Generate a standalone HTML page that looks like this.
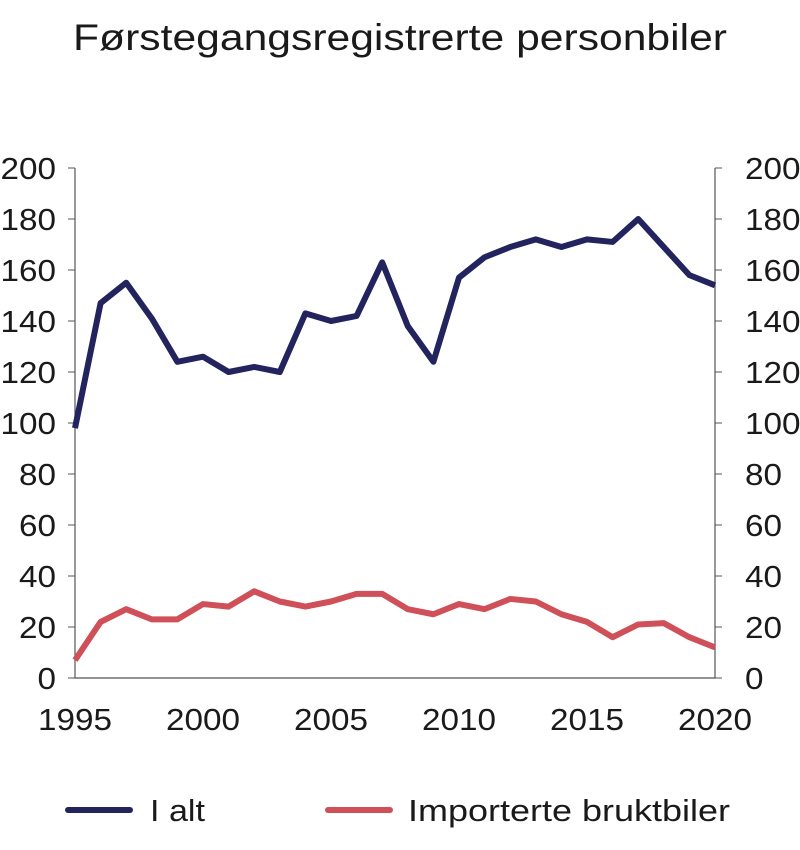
<!DOCTYPE html>
<html><head><meta charset="utf-8"><style>
body{margin:0;background:#fff;font-family:"Liberation Sans",sans-serif;}
svg text{font-family:"Liberation Sans",sans-serif;fill:#1a1a1a;}
</style></head><body>
<svg width="800" height="845">
<text x="73" y="50" font-size="37" textLength="654" lengthAdjust="spacingAndGlyphs">Førstegangsregistrerte personbiler</text>
<g id="axes"></g><g id="lines"></g>
<g>
<line x1="68" y1="810" x2="130" y2="810" stroke="#23235e" stroke-width="6" stroke-linecap="round"/>
<text x="150" y="821" font-size="31" textLength="55" lengthAdjust="spacingAndGlyphs">I alt</text>
<line x1="328" y1="810" x2="390" y2="810" stroke="#d0505a" stroke-width="6" stroke-linecap="round"/>
<text x="408" y="821" font-size="31" textLength="322" lengthAdjust="spacingAndGlyphs">Importerte bruktbiler</text>
</g>
</svg>
<script>
const years=[1995,1996,1997,1998,1999,2000,2001,2002,2003,2004,2005,2006,2007,2008,2009,2010,2011,2012,2013,2014,2015,2016,2017,2018,2019,2020];
const iAlt=[98,147,155,141,124,126,120,122,120,143,140,142,163,138,124,157,165,169,172,169,172,171,180,169,158,154];
const importerte=[7,22,27,23,23,29,28,34,30,28,30,33,33,27,25,29,27,31,30,25,22,16,21,21.5,16,12];
const yTicks=[0,20,40,60,80,100,120,140,160,180,200];
const xTicks=[1995,2000,2005,2010,2015,2020];
const L=75,R=715,T=168,B=678;
const x=v=>L+(v-1995)/25*(R-L);
const y=v=>B-v/200*(B-T);
const NS="http://www.w3.org/2000/svg";
const ax=document.getElementById('axes');
function mk(tag,attrs,parent){const e=document.createElementNS(NS,tag);for(const k in attrs)e.setAttribute(k,attrs[k]);parent.appendChild(e);return e;}
let e=mk('path',{d:`M${L},${T}V${B}H${R}V${T}`,fill:'none',stroke:'#555','stroke-width':1.2},ax);


yTicks.forEach(v=>{
 let t=mk('line',{x1:L-7,x2:L,y1:y(v),y2:y(v),stroke:'#555'},ax);
 
 
 t=mk('line',{x1:R,x2:R+7,y1:y(v),y2:y(v),stroke:'#555'},ax);
 
 
 const w=String(v).length*18.5;
 let l=mk('text',{x:56,y:y(v)+11,'font-size':31,'text-anchor':'end',textLength:w,lengthAdjust:'spacingAndGlyphs'},ax);l.textContent=v;
 
 
 l=mk('text',{x:745,y:y(v)+11,'font-size':31,'text-anchor':'start',textLength:w,lengthAdjust:'spacingAndGlyphs'},ax);l.textContent=v;
 
 
});
xTicks.forEach(v=>{
 let l=mk('text',{x:x(v)-37,y:730,'font-size':31,textLength:74,lengthAdjust:'spacingAndGlyphs'},ax);l.textContent=v;
 
 
});
const lg=document.getElementById('lines');
function line(vals,color,name){
 const d=vals.map((v,i)=>(i?'L':'M')+x(years[i])+','+y(v)).join('');
 const p=mk('path',{d,fill:'none',stroke:color,'stroke-width':6,'stroke-linejoin':'round'},lg);
 
 
}
line(iAlt,'#23235e','line-i-alt');
line(importerte,'#d0505a','line-importerte');
</script>
</body></html>
